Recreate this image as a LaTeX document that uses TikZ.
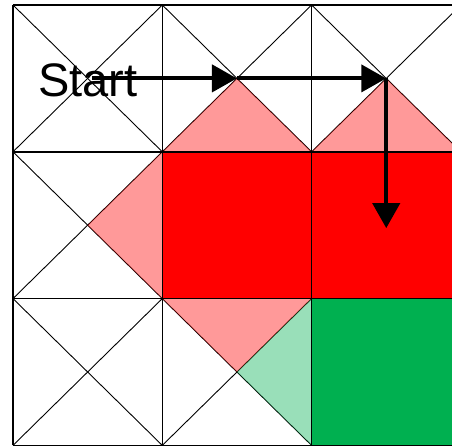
\documentclass[tikz,border=0pt]{standalone}
\usepackage{fontspec}
\setmainfont{Liberation Sans}
\usetikzlibrary{arrows.meta}
\definecolor{stepRed}{HTML}{FF0000}
\definecolor{goalGreen}{HTML}{00B050}
\tikzset{
  cellline/.style={draw=black,line width=1.5pt},
  diagline/.style={draw=black,line width=0.9pt},
  halfred/.style={fill=stepRed,fill opacity=0.4},
  halfgreen/.style={fill=goalGreen,fill opacity=0.4},
  walk/.style={-{Triangle[length=25pt,width=27pt]},line width=4.2pt,draw=black},
  startlbl/.style={anchor=base west,inner sep=0pt,font=\fontsize{47}{47}\selectfont},
}
\begin{document}
\begin{tikzpicture}[x=1pt,y=-1pt]
  \useasboundingbox (0,0) rectangle (452,446);
  \clip (0,0) rectangle (452,446);
  \begin{scope}[shift={(13,5)},x=149.3pt,y=-146.8pt]
    % crosses
    \foreach \i in {0,1,2} {
      \foreach \j in {0,1,2} {
        \draw[diagline] (\i,\j) -- (\i+1,\j+1);
        \draw[diagline] (\i+1,\j) -- (\i,\j+1);
      }
    }
    % visited cells
    \fill[stepRed] (1,1) rectangle (3,2);
    \fill[goalGreen] (2,2) rectangle (3,3);
    % light quarters
    \fill[halfred] (1,1) -- (1.5,0.5) -- (2,1) -- cycle;
    \fill[halfred] (2,1) -- (2.5,0.5) -- (3,1) -- cycle;
    \fill[halfred] (1,1) -- (0.5,1.5) -- (1,2) -- cycle;
    \fill[halfred] (1,2) -- (1.5,2.5) -- (2,2) -- cycle;
    \fill[halfgreen] (2,2) -- (1.5,2.5) -- (2,3) -- cycle;
    % grid
    \foreach \k in {0,1,2,3} {
      \draw[cellline] (\k,0) -- (\k,3);
      \draw[cellline] (0,\k) -- (3,\k);
    }
    % path
    \coordinate (s0) at (0.53,0.5);
    \coordinate (s1) at (1.5,0.5);
    \coordinate (s2) at (2.5,0.5);
    \coordinate (s3) at (2.5,1.52);
  \end{scope}
  \node[startlbl] (start) at (38,97) {Start};
  \draw[walk] (s0) -- (s1);
  \draw[walk] (s1) -- (s2);
  \draw[walk] (s2) -- (s3);
\end{tikzpicture}
\end{document}
